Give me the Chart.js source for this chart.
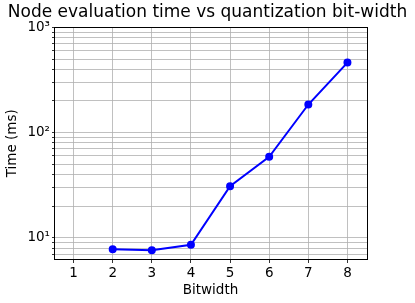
<!DOCTYPE html>
<html>
<head>
<meta charset="utf-8">
<script src="https://cdn.jsdelivr.net/npm/chart.js@4/dist/chart.umd.min.js"></script>
<style>
  html, body { margin: 0; padding: 0; background: #fff; }
  #wrap { width: 415px; height: 303px; }
</style>
</head>
<body>
<div id="wrap"><canvas id="timeChart" width="415" height="303"></canvas></div>
<script>
// data
const bitwidths = [2, 3, 4, 5, 6, 7, 8];
const timesMs = [7.8, 7.65, 8.6, 31, 59, 185, 463];
const xTicks = [1, 2, 3, 4, 5, 6, 7, 8];
const yTicks = [7, 8, 9, 10, 20, 30, 40, 50, 60, 70, 80, 90, 100, 200, 300, 400, 500, 600, 700, 800, 900, 1000];
const yTickLabels = { 10: '10\u00b9', 100: '10\u00b2', 1000: '10\u00b3' };

const FONT = "'DejaVu Sans', sans-serif";
const GRID = '#b0b0b0';

// box around the plot area (matplotlib style frame)
const frame = {
    id: 'frame',
    afterDraw(chart) {
        const a = chart.chartArea;
        const ctx = chart.ctx;
        ctx.save();
        ctx.strokeStyle = '#000';
        ctx.lineWidth = 1;
        ctx.strokeRect(Math.round(a.left) + 0.5, Math.round(a.top) + 0.5,
            Math.round(a.right - a.left), Math.round(a.bottom - a.top));
        ctx.restore();
    }
};

const ctx = document.getElementById('timeChart').getContext('2d');
const chart = new Chart(ctx, {
    type: 'line',
    data: {
        datasets: [{
            label: 'Time',
            data: bitwidths.map((b, i) => ({ x: b, y: timesMs[i] })),
            borderColor: '#0000ff',
            backgroundColor: '#0000ff',
            borderWidth: 2,
            pointRadius: 3,
            pointHoverRadius: 3,
            tension: 0,
            fill: false
        }]
    },
    options: {
        responsive: false,
        animation: false,
        layout: { padding: 0 },
        plugins: {
            legend: { display: false },
            tooltip: { enabled: false },
            title: {
                display: true,
                text: 'Node evaluation time vs quantization bit-width',
                color: '#000',
                font: { family: FONT, size: 17, weight: 'normal' },
                padding: { top: 2, bottom: 5 }
            }
        },
        scales: {
            x: {
                type: 'linear',
                min: 0.5,
                max: 8.5,
                afterBuildTicks: s => { s.ticks = xTicks.map(v => ({ value: v })); },
                afterFit: s => { s.height = 44; },
                grid: { color: GRID, lineWidth: 0.8, tickColor: '#000', tickLength: 4 },
                border: { color: '#000', width: 1 },
                ticks: {
                    color: '#000',
                    font: { family: FONT, size: 13.5 },
                    padding: 2,
                    maxRotation: 0,
                    callback: v => String(v)
                },
                title: {
                    display: true,
                    text: 'Bitwidth',
                    color: '#000',
                    font: { family: FONT, size: 13.5 },
                    padding: { top: 0, bottom: 4 }
                }
            },
            y: {
                type: 'logarithmic',
                min: 6.3,
                max: 1000,
                afterBuildTicks: s => { s.ticks = yTicks.map(v => ({ value: v })); },
                afterFit: s => { s.width = 54; },
                grid: {
                    color: GRID,
                    lineWidth: 0.8,
                    tickColor: '#000',
                    tickLength: c => (yTickLabels[c.tick && c.tick.value] ? 4 : 2)
                },
                border: { color: '#000', width: 1 },
                ticks: {
                    color: '#000',
                    font: { family: FONT, size: 13.5 },
                    padding: 2,
                    autoSkip: false,
                    callback: v => yTickLabels[v] || ''
                },
                title: {
                    display: true,
                    text: 'Time (ms)',
                    color: '#000',
                    font: { family: FONT, size: 13.5 },
                    padding: { top: 4, bottom: 2 }
                }
            },
            // empty right-hand axis, only reserves the margin right of the plot
            yRight: {
                type: 'linear',
                position: 'right',
                display: true,
                afterFit: s => { s.width = 48; },
                grid: { display: false, drawOnChartArea: false },
                border: { display: false },
                ticks: { display: false }
            }
        }
    },
    plugins: [frame]
});
</script>
</body>
</html>
